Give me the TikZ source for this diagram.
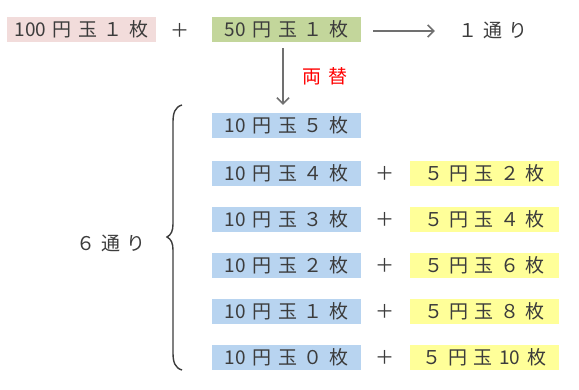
\documentclass[tikz,border=0pt]{standalone}
\usepackage{fontspec}
\newfontfamily\jp{Noto Sans CJK JP}
\usetikzlibrary{arrows.meta}
\definecolor{txt}{HTML}{3C3C3C}
\definecolor{arrgray}{HTML}{707070}
\definecolor{pinkc}{HTML}{F2DCDB}
\definecolor{greenc}{HTML}{C3D69B}
\definecolor{bluec}{HTML}{B8D4F0}
\definecolor{yellowc}{HTML}{FFFF99}
\definecolor{redc}{HTML}{FF0000}
\newcommand\gapk{\kern6.5pt}
\begin{document}
\begin{tikzpicture}[x=1pt,y=-1pt,
  lbl/.style={font=\jp\fontsize{19}{21}\selectfont, text=txt, inner sep=0pt, anchor=center},
  coin/.style={lbl, minimum width=149pt, minimum height=25pt},
  pinkbox/.style={coin, fill=pinkc},
  greenbox/.style={coin, fill=greenc},
  bluebox/.style={coin, fill=bluec},
  yellowbox/.style={coin, fill=yellowc},
  arr/.style={draw=arrgray, line width=1.6pt, -{Straight Barb[length=6pt,width=12pt,line width=1.6pt]}},
  bracestyle/.style={draw=txt, line width=1.4pt}]
\useasboundingbox (0,0) rectangle (579,390);

\node[pinkbox] (p) at (81.5,29.5) {100\gapk 円\gapk 玉\gapk １\gapk 枚};
\node[lbl] (plus0) at (180,30) {＋};
\node[greenbox] (g) at (286.5,29.5) {50\gapk 円\gapk 玉\gapk １\gapk 枚};
\node[lbl] (one) at (493,30) {１\gapk 通\gapk り};
\node[lbl, text=redc] (ryo) at (325,76) {両\gapk 替};

\node[bluebox] (b1) at (286.5,125.5) {10\gapk 円\gapk 玉\gapk ５\gapk 枚};
\node[bluebox] (b2) at (286.5,173.5) {10\gapk 円\gapk 玉\gapk ４\gapk 枚};
\node[bluebox] (b3) at (286.5,219.5) {10\gapk 円\gapk 玉\gapk ３\gapk 枚};
\node[bluebox] (b4) at (286.5,265.5) {10\gapk 円\gapk 玉\gapk ２\gapk 枚};
\node[bluebox] (b5) at (286.5,311.5) {10\gapk 円\gapk 玉\gapk １\gapk 枚};
\node[bluebox] (b6) at (286.5,357.5) {10\gapk 円\gapk 玉\gapk ０\gapk 枚};

\node[lbl] (plus2) at (385,173.5) {＋};
\node[lbl] (plus3) at (385,219.5) {＋};
\node[lbl] (plus4) at (385,265.5) {＋};
\node[lbl] (plus5) at (385,311.5) {＋};
\node[lbl] (plus6) at (385,357.5) {＋};

\node[yellowbox] (y2) at (484.5,173.5) {５\gapk 円\gapk 玉\gapk ２\gapk 枚};
\node[yellowbox] (y3) at (484.5,219.5) {５\gapk 円\gapk 玉\gapk ４\gapk 枚};
\node[yellowbox] (y4) at (484.5,265.5) {５\gapk 円\gapk 玉\gapk ６\gapk 枚};
\node[yellowbox] (y5) at (484.5,311.5) {５\gapk 円\gapk 玉\gapk ８\gapk 枚};
\node[yellowbox] (y6) at (484.5,357.5) {５\gapk 円\gapk 玉\gapk 10\gapk 枚};

\node[lbl] (six) at (111,243) {６\gapk 通\gapk り};

\draw[arr, shorten <=12pt, shorten >=23pt] (g.east |- 0,31) -- (one.west |- 0,31);
\draw[arr, shorten <=6pt, shorten >=8pt] ([xshift=-3.5pt]g.south) -- ([xshift=-3.5pt]b1.north);

\draw[bracestyle] (182,105) .. controls (175,107) and (173,113) .. (173,122) -- (173,224)
  .. controls (173,231) and (171,235) .. (167,237)
  .. controls (171,239) and (173,243) .. (173,250) -- (173,353)
  .. controls (173,362) and (175,368) .. (182,370);
\end{tikzpicture}
\end{document}
